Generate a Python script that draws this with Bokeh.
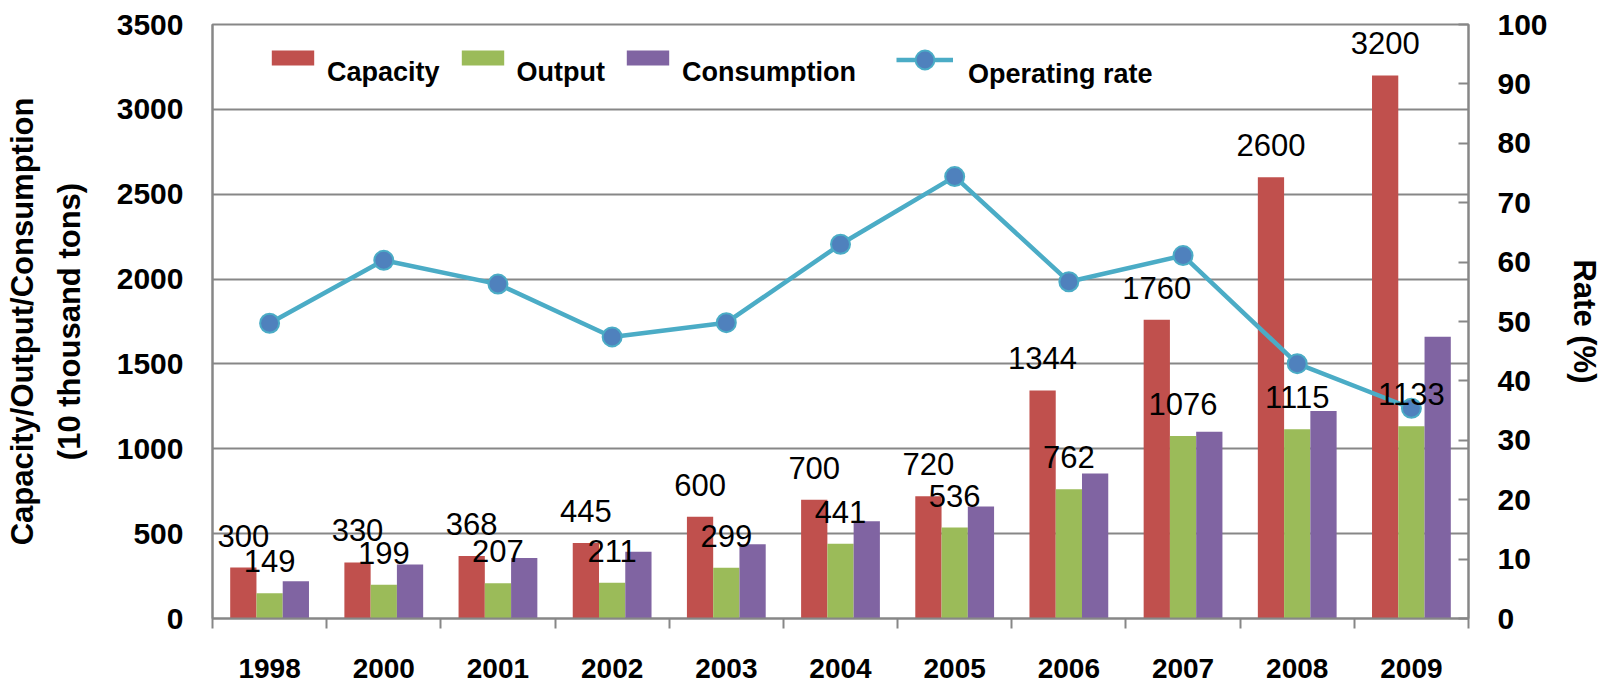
from bokeh.plotting import figure
from bokeh.models import Range1d, LinearAxis, FixedTicker, LabelSet, ColumnDataSource, Legend, LegendItem
from bokeh.transform import dodge
from bokeh.core.properties import value
from bokeh.embed import file_html
from bokeh.resources import INLINE

years = ["1998", "2000", "2001", "2002", "2003", "2004", "2005", "2006", "2007", "2008", "2009"]
capacity = [300, 330, 368, 445, 600, 700, 720, 1344, 1760, 2600, 3200]
output = [149, 199, 207, 211, 299, 441, 536, 762, 1076, 1115, 1133]
consumption = [220, 318, 357, 393, 438, 573, 660, 855, 1100, 1222, 1660]
operating_rate = [49.7, 60.3, 56.3, 47.4, 49.8, 63.0, 74.4, 56.7, 61.1, 42.9, 35.4]
left_ticks = [0, 500, 1000, 1500, 2000, 2500, 3000, 3500]
right_ticks = [0, 10, 20, 30, 40, 50, 60, 70, 80, 90, 100]

FONT = "Liberation Sans"
GRAY = "#878787"
BW = 0.23

idx = list(range(len(years)))
src = ColumnDataSource(dict(
    x=idx,
    cap=capacity, out=output, con=consumption, rate=operating_rate,
    x_cap=[i - BW for i in idx],
    cap_lbl=[str(v) for v in capacity],
    out_lbl=[str(v) for v in output],
))

p = figure(width=1608, height=685, x_range=Range1d(-0.5, len(years) - 0.5),
           y_range=Range1d(0, 3500), output_backend="svg", toolbar_location=None,
           min_border_left=212, min_border_right=140, min_border_top=24, min_border_bottom=67)
p.extra_y_ranges = {"rate": Range1d(0, 100)}

r_cap = p.vbar(x=dodge("x", -BW), top="cap", width=BW, fill_color="#C0504D", line_color=None, source=src)
r_out = p.vbar(x="x", top="out", width=BW, fill_color="#9BBB59", line_color=None, source=src)
r_con = p.vbar(x=dodge("x", BW), top="con", width=BW, fill_color="#8064A2", line_color=None, source=src)
r_line = p.line(x="x", y="rate", y_range_name="rate", line_color="#4BACC6", line_width=4.5, source=src)
r_pts = p.scatter(x="x", y="rate", y_range_name="rate", size=19, fill_color="#4F81BD",
                  line_color="#4BACC6", line_width=2, source=src)

for xf, yf, tf in [("x_cap", "cap", "cap_lbl"), ("x", "out", "out_lbl")]:
    p.add_layout(LabelSet(x=xf, y=yf, text=tf, source=src, text_align="center",
                          text_baseline="alphabetic", y_offset=21,
                          text_font=value(FONT), text_font_size="31px", text_color="black"))

# left axis
p.yaxis.ticker = FixedTicker(ticks=left_ticks)
p.ygrid.ticker = FixedTicker(ticks=left_ticks)
p.yaxis.axis_label = "Capacity/Output/Consumption\n(10 thousand tons)"
p.yaxis.axis_label_text_font = FONT
p.yaxis.axis_label_text_font_size = "31px"
p.yaxis.axis_label_text_font_style = "bold"
p.yaxis.axis_label_text_color = "black"
p.yaxis.axis_label_text_line_height = 1.35
p.yaxis.axis_label_standoff = 27
p.yaxis.major_label_text_font = FONT
p.yaxis.major_label_text_font_size = "30px"
p.yaxis.major_label_text_font_style = "bold"
p.yaxis.major_label_text_color = "black"
p.yaxis.major_label_standoff = 29
p.yaxis.major_tick_out = 0
p.yaxis.major_tick_in = 0
p.yaxis.minor_tick_out = 0
p.yaxis.minor_tick_in = 0
p.yaxis.axis_line_color = GRAY
p.yaxis.axis_line_width = 2

# right axis
ax_r = LinearAxis(y_range_name="rate", ticker=FixedTicker(ticks=right_ticks), axis_label="Rate (%)")
ax_r.axis_label_text_font = FONT
ax_r.axis_label_text_font_size = "31px"
ax_r.axis_label_text_font_style = "bold"
ax_r.axis_label_text_color = "black"
ax_r.axis_label_standoff = 16
ax_r.major_label_text_font = FONT
ax_r.major_label_text_font_size = "30px"
ax_r.major_label_text_font_style = "bold"
ax_r.major_label_text_color = "black"
ax_r.major_label_standoff = 29
ax_r.major_tick_in = 10
ax_r.major_tick_out = 0
ax_r.major_tick_line_color = GRAY
ax_r.major_tick_line_width = 2
ax_r.minor_tick_in = 0
ax_r.minor_tick_out = 0
ax_r.axis_line_color = GRAY
ax_r.axis_line_width = 2
p.add_layout(ax_r, "right")

# x axis
p.xaxis.ticker = FixedTicker(ticks=idx, minor_ticks=[i - 0.5 for i in range(len(years) + 1)])
p.xaxis.major_label_overrides = {i: y for i, y in enumerate(years)}
p.xaxis.major_label_text_font = FONT
p.xaxis.major_label_text_font_size = "28px"
p.xaxis.major_label_text_font_style = "bold"
p.xaxis.major_label_text_color = "black"
p.xaxis.major_label_standoff = 30
p.xaxis.major_tick_out = 0
p.xaxis.major_tick_in = 0
p.xaxis.minor_tick_out = 10
p.xaxis.minor_tick_in = 0
p.xaxis.minor_tick_line_color = GRAY
p.xaxis.minor_tick_line_width = 2
p.xaxis.axis_line_color = GRAY
p.xaxis.axis_line_width = 2

p.xgrid.visible = False
p.ygrid.grid_line_color = GRAY
p.ygrid.grid_line_width = 2
p.outline_line_color = GRAY
p.outline_line_width = 2


def style_legend(lg):
    lg.orientation = "horizontal"
    lg.padding = 0
    lg.margin = 0
    lg.border_line_alpha = 0
    lg.background_fill_alpha = 0
    lg.label_text_font = FONT
    lg.label_text_font_size = "27px"
    lg.label_text_font_style = "bold"
    lg.label_text_color = "black"
    lg.label_text_line_height = 0.7


lg1 = Legend(items=[LegendItem(label="\nCapacity", renderers=[r_cap]),
                    LegendItem(label="\nOutput", renderers=[r_out]),
                    LegendItem(label="\nConsumption", renderers=[r_con])],
             location=(54, 530), glyph_width=53, glyph_height=19, label_standoff=8, spacing=16)
style_legend(lg1)
p.add_layout(lg1, "center")

lg2 = Legend(items=[LegendItem(label="\nOperating rate", renderers=[r_line, r_pts])],
             location=(684, 528), glyph_width=57, glyph_height=47, label_standoff=15, spacing=0)
style_legend(lg2)
p.add_layout(lg2, "center")

open("out.html", "w").write(file_html(p, INLINE))
